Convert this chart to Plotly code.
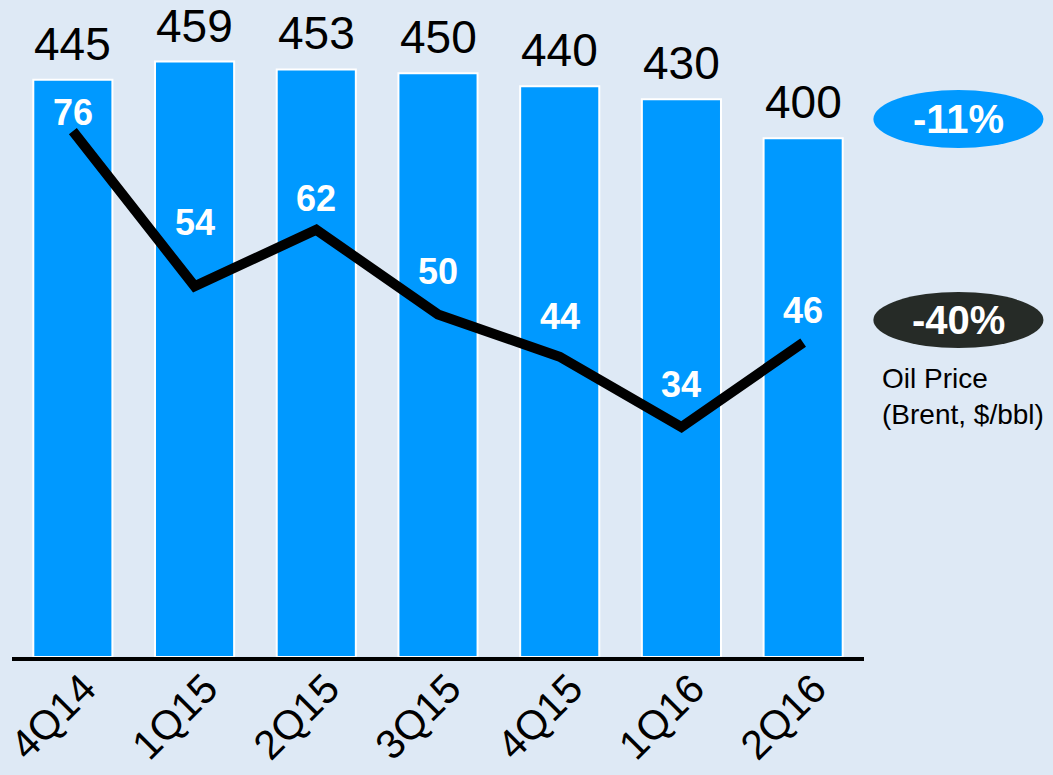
import plotly.graph_objects as go

# Quarterly figures
quarters = ["4Q14", "1Q15", "2Q15", "3Q15", "4Q15", "1Q16", "2Q16"]
bar_values = [445, 459, 453, 450, 440, 430, 400]
oil_price = [76, 54, 62, 50, 44, 34, 46]

# Vertical placement (px) of each oil-price label above its point
oil_label_shift = [19, 64, 31, 43, 40, 43, 32]

BG = "#dee9f5"
BAR_BLUE = "#0099ff"
DARK = "#262b27"
FONT = "Liberation Sans, Arial, sans-serif"

fig = go.Figure()

fig.add_trace(go.Bar(
    x=quarters, y=bar_values,
    marker=dict(color=BAR_BLUE, line=dict(color="white", width=2)),
    width=0.65,
    hoverinfo="x+y",
    showlegend=False,
))

fig.add_trace(go.Scatter(
    x=quarters, y=oil_price, yaxis="y2",
    mode="lines",
    line=dict(color="black", width=10),
    hoverinfo="x+y",
    showlegend=False,
))

annotations = []
# Bar value labels above each bar
for q, v in zip(quarters, bar_values):
    annotations.append(dict(
        x=q, y=v, xref="x", yref="y",
        text=str(v), showarrow=False,
        yanchor="bottom", yshift=8,
        font=dict(family=FONT, size=46, color="black"),
    ))
# Oil price labels
for q, v, s in zip(quarters, oil_price, oil_label_shift):
    annotations.append(dict(
        x=q, y=v, xref="x", yref="y2",
        text=f"<b>{v}</b>", showarrow=False,
        yanchor="middle", yshift=s,
        font=dict(family=FONT, size=36, color="white"),
    ))

# Change badges on the right
annotations.append(dict(
    x=1.1105, y=0.8189, xref="paper", yref="paper",
    text="<b>-11%</b>", showarrow=False,
    xanchor="center", yanchor="middle",
    font=dict(family=FONT, size=40, color="white"),
))
annotations.append(dict(
    x=1.1105, y=0.5129, xref="paper", yref="paper",
    text="<b>-40%</b>", showarrow=False,
    xanchor="center", yanchor="middle",
    font=dict(family=FONT, size=40, color="white"),
))
annotations.append(dict(
    x=1.0185, y=0.397, xref="paper", yref="paper",
    text="Oil Price<br>(Brent, $/bbl)", showarrow=False,
    xanchor="left", yanchor="middle", align="left",
    font=dict(family=FONT, size=28, color="black"),
))

shapes = [
    dict(type="circle", xref="paper", yref="paper",
         x0=1.011, x1=1.2106, y0=0.7747, y1=0.863,
         fillcolor=BAR_BLUE, line=dict(width=0), layer="below"),
    dict(type="circle", xref="paper", yref="paper",
         x0=1.011, x1=1.2106, y0=0.4703, y1=0.5556,
         fillcolor=DARK, line=dict(width=0), layer="below"),
]

fig.update_layout(
    width=1053, height=775,
    margin=dict(l=12, r=189, t=0, b=118),
    paper_bgcolor=BG, plot_bgcolor=BG,
    font=dict(family=FONT, color="black"),
    xaxis=dict(
        showline=True, linecolor="black", linewidth=4,
        showgrid=False, zeroline=False, ticks="",
        tickangle=-45, tickfont=dict(family=FONT, size=41, color="black"),
        ticklabelshift=11, ticklabelstandoff=-13,
        range=[-0.5, 6.5], automargin=False,
    ),
    yaxis=dict(visible=False, range=[0, 506.5], showgrid=False,
               zeroline=False, automargin=False),
    yaxis2=dict(visible=False, overlaying="y", range=[1.4, 94.6],
                showgrid=False, zeroline=False, automargin=False),
    annotations=annotations,
    shapes=shapes,
)

fig.write_html("out.html")
